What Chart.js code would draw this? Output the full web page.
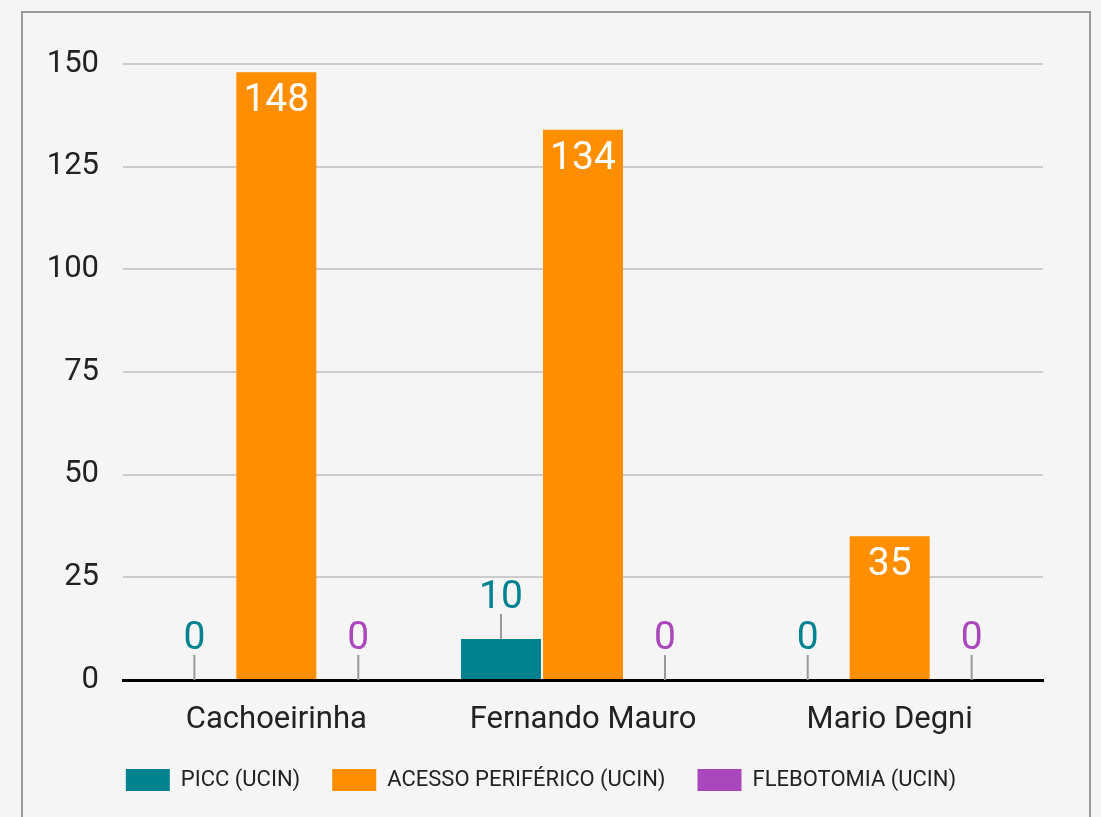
<!DOCTYPE html>
<html>
<head>
<meta charset="utf-8">
<script src="https://cdn.jsdelivr.net/npm/chart.js@4.4.1/dist/chart.umd.min.js"></script>
<style>
  html, body { margin: 0; padding: 0; background: #f5f5f5; }
  #frame {
    position: absolute; left: 21px; top: 11px; width: 1066px; height: 900px;
    border: 2px solid #999; box-sizing: content-box;
  }
  #wrap { position: absolute; left: 0; top: 0; width: 1101px; height: 817px; }
</style>
</head>
<body>
<div id="frame"></div>
<div id="wrap"><canvas id="chart" width="1101" height="817"></canvas></div>
<script>
// data
const hospitals = ['Cachoeirinha', 'Fernando Mauro', 'Mario Degni'];
const picc = [0, 10, 0];
const acessoPeriferico = [148, 134, 35];
const flebotomia = [0, 0, 0];
const yTicks = [0, 25, 50, 75, 100, 125, 150];

const TEAL = '#00838f', ORANGE = '#ff8f00', PURPLE = '#ab47bc';
const numFont = '39px Roboto';

/*=============== VALUE LABELS ===============*/
const valueLabels = {
    id: 'valueLabels',
    afterDatasetsDraw(chart) {
        const ctx = chart.ctx;
        ctx.save();
        ctx.font = numFont;
        ctx.textAlign = 'center';
        ctx.textBaseline = 'alphabetic';
        chart.data.datasets.forEach((ds, i) => {
            const meta = chart.getDatasetMeta(i);
            meta.data.forEach((bar, j) => {
                const v = ds.data[j];
                const h = bar.base - bar.y;
                if (h > 60) {
                    // label inside the bar
                    ctx.fillStyle = '#ffffff';
                    ctx.fillText(String(v), bar.x, bar.y + 39);
                } else {
                    // leader line + label above
                    ctx.strokeStyle = '#999';
                    ctx.lineWidth = 2;
                    ctx.beginPath();
                    ctx.moveTo(bar.x, bar.y);
                    ctx.lineTo(bar.x, bar.y - 25);
                    ctx.stroke();
                    ctx.fillStyle = ds.backgroundColor;
                    ctx.fillText(String(v), bar.x, bar.y - 31);
                }
            });
        });
        ctx.restore();
    }
};

const ctx = document.getElementById('chart').getContext('2d');
new Chart(ctx, {
    type: 'bar',
    data: {
        labels: hospitals,
        datasets: [
            { label: 'PICC (UCIN)', data: picc, backgroundColor: TEAL },
            { label: 'ACESSO PERIFÉRICO (UCIN)', data: acessoPeriferico, backgroundColor: ORANGE },
            { label: 'FLEBOTOMIA (UCIN)', data: flebotomia, backgroundColor: PURPLE }
        ]
    },
    options: {
        responsive: false,
        animation: false,
        layout: { padding: { left: 39, right: 58, top: 64, bottom: 16 } },
        datasets: { bar: { categoryPercentage: 0.802, barPercentage: 0.976, borderWidth: 0 } },
        scales: {
            x: {
                grid: { display: false, drawTicks: false },
                border: { display: true, color: '#000', width: 3 },
                ticks: { color: '#222', font: { family: 'Roboto', size: 31 }, padding: 22 },
                afterFit(scale) { scale.height = 57; }
            },
            y: {
                min: 0, max: 150,
                afterBuildTicks(scale) { scale.ticks = yTicks.map(v => ({ value: v })); },
                grid: { color: '#cccccc', lineWidth: 2, drawTicks: false },
                border: { display: false },
                ticks: { color: '#222', font: { family: 'Roboto', size: 31 }, padding: 24 },
                afterFit(scale) { scale.width = 84; }
            }
        },
        plugins: {
            legend: {
                position: 'bottom',
                labels: {
                    boxWidth: 44, boxHeight: 22, padding: 32, color: '#222',
                    font: { family: 'Roboto', size: 22 }
                }
            },
            tooltip: { enabled: false }
        }
    },
    plugins: [valueLabels]
});
</script>
</body>
</html>
